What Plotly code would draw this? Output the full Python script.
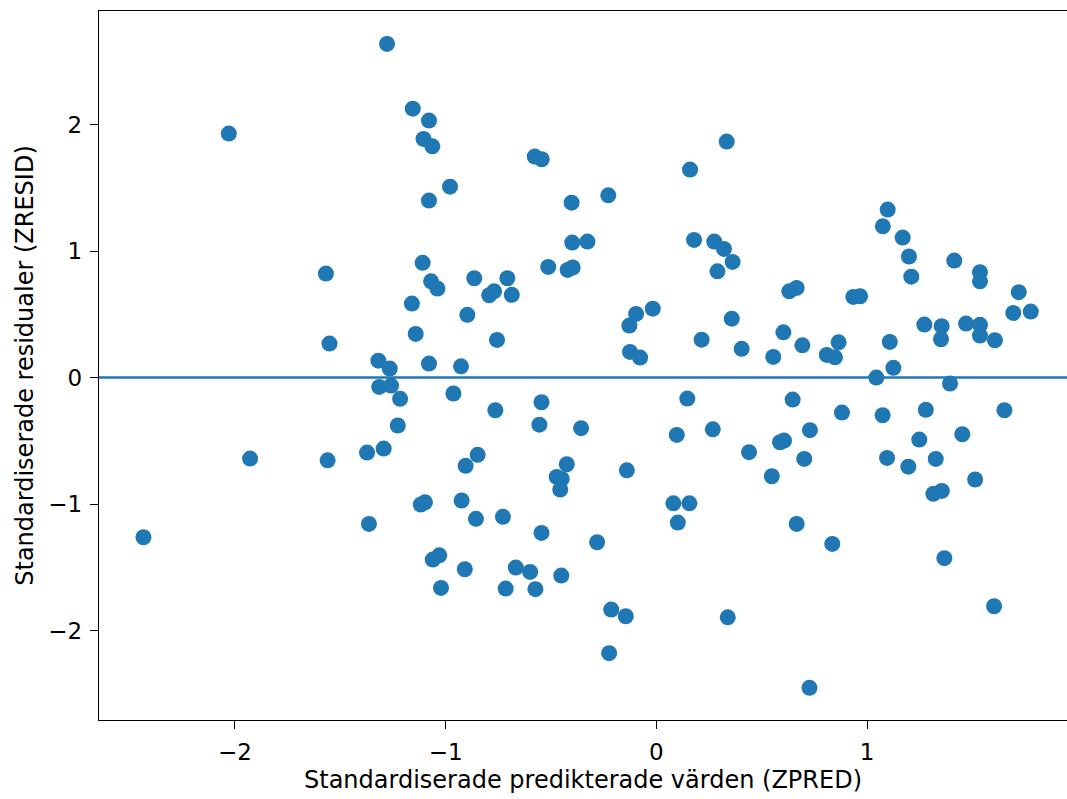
import plotly.graph_objects as go

zpred = [
    -2.434, -2.029, -1.928, -1.568, -1.551, -1.560, -1.278, -1.156, -1.079, -1.105,
    -1.063, -0.979, -1.079, -0.577, -0.544, -0.402, -0.228, 0.160, 0.334, -0.399,
    -0.327, -0.513, -0.421, -0.397, 0.179, 0.275, 0.321, 0.362, 0.290, 0.358,
    0.215, 0.405, -0.128, -0.096, -0.017, -0.125, -0.077, -1.109, -1.069, -1.039,
    -1.160, -1.142, -1.319, -1.265, -1.079, -0.864, -0.707, -0.793, -0.770, -0.686,
    -0.897, -0.756, -0.927,
    1.098, 1.075, 1.169, 1.199, 1.210, 1.414, 1.536, 1.536, 1.720, 1.694,
    1.777, 0.631, 0.666, 0.935, 0.967, 0.603, 0.693, 0.555, 0.809, 0.848,
    0.865, 1.108, 1.125, 1.044, 1.272, 1.354, 1.351, 1.470, 1.536, 1.536,
    1.607, 1.394,
    -1.315, -1.259, -1.216, -1.227, -1.294, -1.373, -1.364, -1.118, -1.098,
    -0.963, -0.764, -0.545, -0.555, -0.357, -0.848, -0.905, -0.425, -0.473, -0.449,
    -0.456, -0.140, -0.924, -0.856, -0.728, -0.545, -0.281, -1.061, -1.030, -0.909,
    -1.022, -0.667, -0.599, -0.451, -0.715, -0.574, -0.214, -0.145, -0.224, 0.081,
    0.157, 0.102, 0.097, 0.147, 0.268, 0.440, 0.339,
    0.647, 0.881, 1.074, 1.279, 1.652, 0.729, 0.587, 0.606, 0.702, 0.548,
    1.248, 1.452, 1.095, 1.196, 1.326, 1.513, 1.315, 1.355, 0.666, 0.835,
    1.367, 1.603, 0.727,
]

zresid = [
    -1.262, 1.929, -0.640, 0.822, 0.269, -0.654, 2.638, 2.126, 2.032, 1.887,
    1.828, 1.509, 1.399, 1.747, 1.726, 1.383, 1.441, 1.644, 1.866, 1.067,
    1.075, 0.875, 0.851, 0.870, 1.088, 1.075, 1.017, 0.914, 0.840, 0.466,
    0.300, 0.227, 0.411, 0.503, 0.545, 0.203, 0.158, 0.907, 0.761, 0.704,
    0.585, 0.345, 0.134, 0.071, 0.111, 0.785, 0.785, 0.651, 0.682, 0.654,
    0.496, 0.298, 0.089,
    1.328, 1.196, 1.107, 0.957, 0.798, 0.925, 0.833, 0.761, 0.675, 0.511,
    0.522, 0.682, 0.709, 0.638, 0.643, 0.358, 0.255, 0.163, 0.179, 0.160,
    0.279, 0.282, 0.077, 0.000, 0.419, 0.406, 0.303, 0.427, 0.417, 0.332,
    0.295, -0.047,
    -0.074, -0.063, -0.168, -0.379, -0.561, -0.593, -1.157, -1.004, -0.986,
    -0.126, -0.258, -0.195, -0.372, -0.400, -0.611, -0.698, -0.685, -0.785, -0.801,
    -0.885, -0.733, -0.972, -1.117, -1.101, -1.228, -1.302, -1.439, -1.405, -1.515,
    -1.663, -1.502, -1.536, -1.565, -1.668, -1.673, -1.834, -1.887, -2.179, -0.994,
    -0.994, -1.146, -0.453, -0.166, -0.409, -0.590, -1.895,
    -0.174, -0.277, -0.298, -0.255, -0.258, -0.416, -0.511, -0.498, -0.643, -0.780,
    -0.490, -0.448, -0.635, -0.704, -0.643, -0.806, -0.919, -0.896, -1.157, -1.315,
    -1.428, -1.808, -2.453,
]

x_ticks = [-2, -1, 0, 1]
y_ticks = [-2, -1, 0, 1, 2]
x_title = "Standardiserade predikterade värden (ZPRED)"
y_title = "Standardiserade residualer (ZRESID)"
ref_value = 0

BLUE = "#1f77b4"
FONT = "DejaVu Sans"
TICK_SIZE = 23
TITLE_SIZE = 24

fig = go.Figure()
fig.add_trace(go.Scatter(
    x=zpred, y=zresid, mode="markers",
    marker=dict(color=BLUE, size=16, line=dict(width=0)),
    showlegend=False, hoverinfo="skip",
))

fig.add_shape(type="line", xref="paper", x0=0, x1=1, yref="y", y0=ref_value, y1=ref_value,
              line=dict(color=BLUE, width=2.5), layer="above")

tick_labels_x = [str(v).replace("-", "\u2212") for v in x_ticks]
tick_labels_y = [str(v).replace("-", "\u2212") for v in y_ticks]

fig.update_layout(
    width=1067, height=799,
    margin=dict(l=99, r=0, t=11, b=79),
    paper_bgcolor="white", plot_bgcolor="white",
    font=dict(family=FONT, size=TICK_SIZE, color="black"),
    xaxis=dict(
        range=[-2.645, 1.949],
        tickmode="array", tickvals=x_ticks, ticktext=tick_labels_x,
        showgrid=False, zeroline=False,
        showline=True, linecolor="black", linewidth=1.3, mirror=True,
        ticks="outside", ticklen=8, tickwidth=1.3, tickcolor="black",
        ticklabelstandoff=3,
        tickfont=dict(family=FONT, size=TICK_SIZE, color="black"),
        title=dict(text=x_title, font=dict(family=FONT, size=TITLE_SIZE, color="black"), standoff=7),
    ),
    yaxis=dict(
        range=[-2.707, 2.898],
        tickmode="array", tickvals=y_ticks, ticktext=tick_labels_y,
        showgrid=False, zeroline=False,
        showline=True, linecolor="black", linewidth=1.3, mirror=False,
        ticks="outside", ticklen=8, tickwidth=1.3, tickcolor="black",
        ticklabelstandoff=3,
        tickfont=dict(family=FONT, size=TICK_SIZE, color="black"),
        title=dict(text=y_title, font=dict(family=FONT, size=TITLE_SIZE, color="black"), standoff=7),
    ),
)

fig.write_html("out.html")
